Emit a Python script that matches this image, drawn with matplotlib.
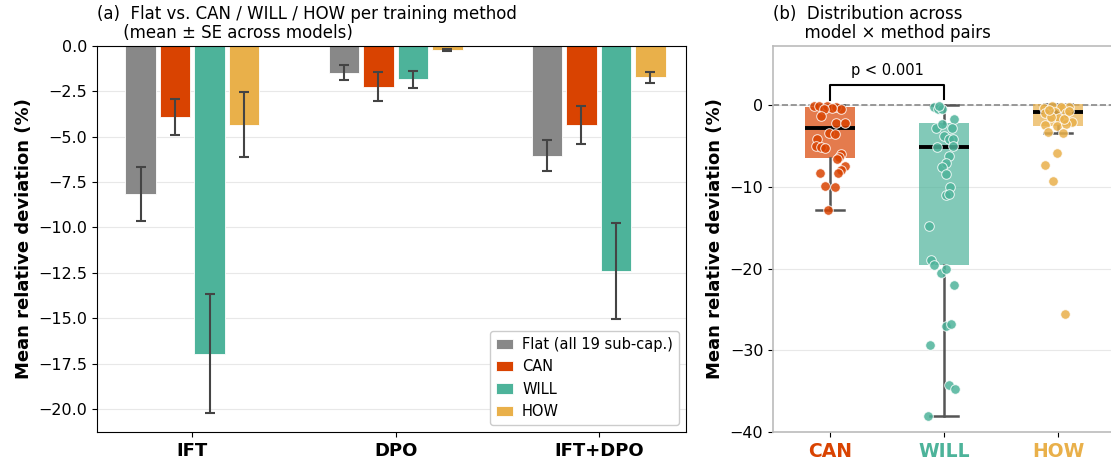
import numpy as np
import matplotlib
matplotlib.use("Agg")
import matplotlib.pyplot as plt

# ---- panel (a): mean relative deviation per training method ----
methods = ["IFT", "DPO", "IFT+DPO"]
series = ["Flat (all 19 sub-cap.)", "CAN", "WILL", "HOW"]
flat_mean = [-8.15, -1.47, -6.04]
flat_se = [1.49, 0.42, 0.86]
can_mean = [-3.93, -2.24, -4.33]
can_se = [0.99, 0.80, 1.05]
will_mean = [-16.95, -1.84, -12.38]
will_se = [3.27, 0.45, 2.65]
how_mean = [-4.35, -0.22, -1.73]
how_se = [1.79, 0.08, 0.29]

# ---- panel (b): distribution across model x method pairs ----
groups = ["CAN", "WILL", "HOW"]
# box stats
box_q1 = [-6.45, -19.6, -2.6]
box_med = [-2.78, -5.1, -0.85]
box_q3 = [-0.28, -2.2, 0.1]
box_lo = [-12.8, -38.1, -3.45]
box_hi = [0.0, -0.05, 0.1]

can_pts = [-0.1, -0.1, -0.1, -0.2, -0.5, -0.3, -0.5, -1.35, -2.2, -2.2, -3.4, -3.55,
           -4.1, -5.0, -5.1, -5.2, -6.0, -6.4, -6.6, -7.4, -7.95, -8.35, -8.35,
           -9.9, -10.05, -12.8]
can_jit = [-0.14, -0.10, -0.03, 0.05, 0.10, 0.02, -0.05, -0.08, 0.05, 0.13, -0.01, 0.04,
           -0.11, -0.12, -0.08, -0.04, 0.10, 0.08, 0.06, 0.13, 0.10, 0.07, -0.09,
           -0.04, 0.04, -0.02]
will_pts = [-0.25, -0.45, -0.45, -0.1, -1.75, -2.75, -2.3, -2.75, -3.8, -4.2, -4.2, -5.1,
            -5.0, -6.2, -7.1, -7.6, -8.45, -10.0, -11.0, -10.9, -14.8, -19.0, -19.6,
            -20.6, -20.1, -22.0, -27.0, -26.8, -29.4, -34.3, -34.8, -38.1]
will_jit = [-0.09, -0.05, -0.02, -0.04, 0.09, -0.07, -0.02, 0.07, 0.0, 0.04, 0.08, -0.06,
            0.08, 0.04, 0.02, -0.02, 0.02, 0.05, 0.02, 0.04, -0.13, -0.11, -0.09,
            -0.03, 0.02, 0.09, 0.02, 0.06, -0.12, 0.04, 0.10, -0.14]
how_pts = [-0.3, -0.1, -0.4, -0.2, -0.2, -1.0, -0.85, -1.0, -1.6, -2.1, -2.45, -2.6,
           -2.3, -3.3, -3.4, -1.4, -1.7, -0.6, -0.7, -5.85, -7.35, -9.3, -25.6]
how_jit = [-0.12, -0.05, 0.04, 0.10, 0.03, -0.11, -0.03, 0.07, 0.01, 0.12, -0.11, -0.01,
           0.07, -0.09, 0.04, -0.06, 0.05, -0.08, 0.10, -0.01, -0.11, -0.04, 0.06]

colors = ["#888888", "#d94301", "#4db39a", "#e9b04a"]
err_col = "#444444"

fig = plt.figure(figsize=(11.11, 4.63), dpi=100)
ax = fig.add_axes([0.0873, 0.067, 0.5302, 0.8337])
ax2 = fig.add_axes([0.6958, 0.067, 0.3078, 0.8337])

# panel (a) bars
x = np.arange(len(methods))
step = 0.17
width = 0.15
means = [flat_mean, can_mean, will_mean, how_mean]
ses = [flat_se, can_se, will_se, how_se]
for i in range(4):
    ax.bar(x + (i - 1.5) * step, means[i], width, color=colors[i],
           edgecolor="white", linewidth=0.6, label=series[i], zorder=2)
    ax.errorbar(x + (i - 1.5) * step, means[i], yerr=ses[i], fmt="none",
                ecolor=err_col, elinewidth=1.5, capsize=3.5, capthick=1.5, zorder=3)

ax.set_xlim(-0.47, 2.43)
ax.set_ylim(-21.27, 0)
ax.set_xticks(x)
ax.set_xticklabels(methods, fontsize=13, fontweight="bold")
ax.tick_params(axis="y", labelsize=11.5)
ax.yaxis.grid(True, color="#e8e8e8", linewidth=0.8, zorder=0)
ax.set_axisbelow(True)
ax.set_ylabel("Mean relative deviation (%)", fontsize=13, fontweight="bold")
ax.set_title("(a)  Flat vs. CAN / WILL / HOW per training method\n"
             "     (mean \u00b1 SE across models)", loc="left", fontsize=12,
             linespacing=1.05)
ax.legend(loc="lower right", fontsize=10.5, framealpha=1, edgecolor="#cccccc",
          handlelength=1.2, handletextpad=0.6)

# panel (b) boxes + strip points
stats = []
for k in range(3):
    stats.append(dict(q1=box_q1[k], med=box_med[k], q3=box_q3[k],
                      whislo=box_lo[k], whishi=box_hi[k], fliers=[]))
bp = ax2.bxp(stats, positions=[0, 1, 2], widths=0.44, patch_artist=True,
             showfliers=False, capwidths=0.24,
             whiskerprops=dict(color="#555555", linewidth=1.8),
             capprops=dict(color="#555555", linewidth=1.8),
             medianprops=dict(color="black", linewidth=2.8),
             boxprops=dict(linewidth=0))
for k, patch in enumerate(bp["boxes"]):
    patch.set_facecolor(colors[k + 1])
    patch.set_alpha(0.7)
    patch.set_edgecolor("none")

pts = [can_pts, will_pts, how_pts]
jit = [can_jit, will_jit, how_jit]
for k in range(3):
    ax2.scatter(k + np.array(jit[k]), pts[k], s=48, color=colors[k + 1], alpha=0.85,
                edgecolor="white", linewidth=0.7, zorder=4)

ax2.axhline(0, color="#888888", linestyle="--", linewidth=1.2, zorder=1)
ax2.plot([0, 0, 1, 1], [0.6, 2.45, 2.45, 0.7], color="black", linewidth=1.5, zorder=5)
ax2.text(0.5, 3.3, "p < 0.001", ha="center", va="bottom", fontsize=10.5)

ax2.set_xlim(-0.5, 2.5)
ax2.set_ylim(-40, 7.23)
ax2.set_yticks([0, -10, -20, -30, -40])
ax2.set_xticks([0, 1, 2])
ax2.set_xticklabels(groups, fontsize=13.5, fontweight="bold")
for lbl, c in zip(ax2.get_xticklabels(), colors[1:]):
    lbl.set_color(c)
ax2.tick_params(axis="y", labelsize=11.5)
ax2.yaxis.grid(True, color="#e8e8e8", linewidth=0.8)
ax2.set_axisbelow(True)
for sp in ax2.spines.values():
    sp.set_color("#bbbbbb")
    sp.set_linewidth(1.2)
ax2.set_ylabel("Mean relative deviation (%)", fontsize=13, fontweight="bold")
ax2.set_title("(b)  Distribution across\n      model \u00d7 method pairs", loc="left",
              fontsize=12, linespacing=1.05)

fig.savefig("out.png", dpi=100)
